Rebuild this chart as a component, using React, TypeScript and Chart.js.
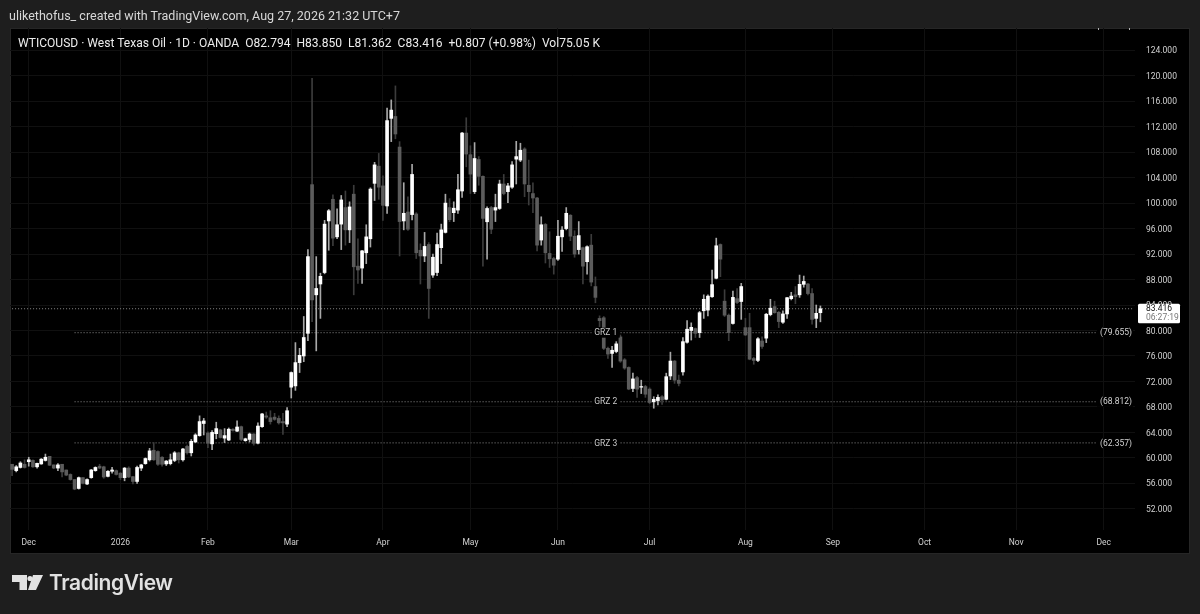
import { useEffect, useRef } from "react";
import { Chart, registerables } from "chart.js";

Chart.register(...registerables);

const opens = [
  59.0, 58.0, 58.5, 59.0, 59.4, 59.6, 58.6, 59.05, 59.6, 60.25,
  58.9, 58.4, 59.0, 58.1, 57.4, 56.6, 55.2, 56.9, 55.9, 56.9,
  58.0, 58.7, 58.6, 57.1, 57.9, 58.0, 57.6, 56.9, 58.4, 57.05,
  56.3, 58.4, 59.1, 59.7, 61.2, 61.0, 60.1, 59.05, 59.1, 59.6,
  60.8, 59.7, 61.8, 60.8, 62.5, 63.5, 65.4, 63.9, 62.2, 63.8,
  64.4, 63.1, 62.8, 64.5, 64.2, 64.9, 62.7, 62.9, 63.75, 62.3,
  64.9, 66.6, 66.3, 66.4, 66.2, 65.7, 65.3,
  71.1, 71.3, 74.96, 76.0, 79.56, 102.9, 85.6, 87.3, 89.1, 97.2,
  100.6, 94.7, 96.7, 99.3, 95.8, 101.4, 90.1, 89.8, 92.2, 94.4,
  103.1, 105.8, 102.7, 99.55, 113.3, 113.6, 108.8, 97.2, 98.6, 98.2,
  98.3, 92.6, 91.7, 93.5, 88.7, 89.1, 93.0, 95.4, 99.3, 98.5,
  98.9, 101.9, 111.0, 107.6, 101.8, 106.85, 104.2, 97.07, 99.3, 98.9,
  99.16, 103.0, 101.8, 102.5, 106.9, 106.75, 108.5, 102.8, 101.5, 100.8,
  94.2, 96.65, 92.1, 91.3, 91.2, 94.7, 96.0, 98.1, 94.8, 92.7,
  93.0, 90.8, 93.4, 86.9,
  81.9, 82.0, 77.2, 76.4, 76.7, 79.0, 75.4, 74.2, 70.9, 72.6,
  71.1, 71.2, 70.8, 68.8, 69.0, 69.6, 69.2, 72.86, 75.2, 72.2,
  73.5, 78.15, 80.0, 80.3, 79.66, 83.1, 83.2, 85.3, 88.2, 93.5,
  84.6, 82.4, 81.1, 85.0, 84.55, 80.45, 80.45, 75.6, 75.3, 78.35,
  78.8, 82.5, 83.75, 82.85, 81.3, 82.6, 85.0, 85.6, 85.6, 87.25,
  87.3, 85.8, 81.9, 82.794,
];

const closes = [
  58.2, 58.6, 59.2, 58.5, 59.7, 58.6, 59.15, 59.8, 60.1, 58.85,
  58.4, 58.9, 57.8, 57.3, 56.6, 55.1, 56.9, 56.0, 56.6, 58.1,
  58.5, 58.4, 57.0, 57.9, 58.1, 57.4, 56.9, 58.4, 57.0, 56.3,
  58.5, 58.9, 59.9, 61.1, 59.7, 59.0, 59.0, 59.5, 59.7, 60.8,
  59.7, 61.4, 60.8, 62.6, 63.6, 65.7, 65.8, 62.3, 64.0, 64.6,
  63.2, 63.5, 64.5, 64.3, 64.85, 62.9, 63.0, 63.75, 62.3, 65.0,
  66.9, 66.4, 65.7, 66.05, 65.5, 65.5, 67.4,
  73.4, 74.96, 76.1, 78.9, 91.6, 84.8, 86.6, 88.5, 96.7, 98.8,
  94.5, 96.6, 100.5, 95.8, 99.4, 90.0, 89.5, 92.5, 94.7, 102.2,
  106.0, 102.5, 99.65, 112.95, 114.6, 110.85, 97.1, 98.4, 95.9, 104.5,
  92.2, 91.7, 93.2, 86.6, 91.5, 93.5, 95.8, 100.0, 97.4, 99.2,
  102.1, 111.0, 107.7, 104.55, 107.0, 104.2, 97.6, 99.16, 95.9, 99.3,
  103.0, 101.5, 102.7, 106.0, 107.3, 108.3, 103.0, 101.8, 100.8, 93.4,
  96.6, 92.2, 91.25, 90.25, 94.8, 95.76, 98.4, 94.8, 92.0, 94.9,
  90.1, 93.15, 87.6, 85.2,
  81.55, 77.2, 76.3, 76.9, 77.9, 75.2, 74.1, 70.8, 72.4, 70.8,
  71.2, 70.0, 68.7, 69.2, 69.5, 69.1, 72.75, 75.2, 72.2, 71.7,
  78.25, 80.2, 80.5, 79.55, 82.8, 84.9, 85.4, 87.2, 93.3, 91.2,
  82.4, 79.66, 85.2, 84.4, 86.9, 79.3, 75.5, 75.3, 78.7, 77.5,
  82.55, 83.5, 82.8, 81.4, 82.6, 85.15, 85.4, 85.3, 87.25, 87.7,
  85.8, 81.75, 82.7, 83.416,
];

const highs = [
  59.0, 58.8, 59.4, 59.7, 60.1, 59.7, 59.2, 59.9, 60.6, 60.25,
  58.9, 59.1, 59.0, 58.1, 57.5, 56.6, 57.0, 56.9, 56.7, 58.2,
  58.6, 59.0, 58.7, 58.0, 58.5, 58.1, 57.7, 58.5, 58.6, 57.1,
  58.7, 59.0, 60.0, 61.5, 62.4, 61.1, 60.2, 59.6, 60.6, 61.0,
  60.9, 61.5, 62.0, 62.9, 63.8, 66.6, 66.2, 64.1, 64.3, 65.6,
  64.5, 64.6, 64.7, 64.6, 65.8, 65.0, 63.1, 63.9, 63.8, 65.5,
  67.0, 67.2, 67.4, 67.0, 66.6, 67.0, 67.9,
  73.5, 78.1, 77.2, 82.2, 92.7, 119.6, 91.6, 89.0, 97.3, 99.0,
  101.3, 99.1, 101.2, 101.9, 100.2, 102.8, 94.4, 92.6, 96.6, 102.4,
  106.4, 107.8, 104.3, 114.9, 116.2, 118.4, 109.65, 103.2, 101.0, 106.1,
  98.5, 93.6, 95.4, 93.8, 92.0, 95.3, 96.7, 101.4, 100.7, 100.2,
  104.5, 111.1, 113.4, 109.0, 109.5, 107.3, 104.3, 99.4, 99.5, 101.4,
  103.6, 104.5, 103.1, 106.5, 109.7, 109.4, 108.7, 106.75, 103.2, 100.9,
  97.85, 96.8, 95.5, 91.5, 97.3, 96.3, 99.3, 98.2, 95.66, 97.1,
  93.1, 93.3, 95.1, 88.4,
  82.3, 82.2, 77.4, 77.5, 78.25, 79.3, 75.6, 74.3, 73.3, 72.8,
  72.2, 71.4, 71.0, 69.6, 69.9, 69.8, 73.3, 76.6, 75.3, 73.0,
  78.9, 81.55, 81.2, 80.4, 83.0, 85.6, 85.6, 89.5, 94.5, 93.6,
  86.4, 82.6, 86.2, 86.6, 87.4, 81.9, 82.7, 75.8, 78.9, 79.0,
  82.7, 84.9, 84.6, 83.0, 83.1, 85.2, 86.0, 86.9, 88.7, 88.55,
  87.4, 86.6, 84.0, 83.85,
];

const lows = [
  57.2, 57.8, 58.4, 58.4, 58.7, 58.5, 58.4, 59.0, 59.5, 58.8,
  58.3, 58.0, 57.0, 57.2, 56.5, 55.0, 55.1, 55.9, 55.8, 56.8,
  57.9, 58.3, 56.8, 57.0, 57.6, 57.3, 56.6, 56.4, 56.9, 55.9,
  56.0, 58.0, 59.0, 59.5, 59.6, 58.8, 58.7, 58.8, 58.9, 59.4,
  59.2, 59.5, 60.6, 60.3, 62.4, 63.4, 63.6, 61.6, 61.3, 63.0,
  63.1, 62.4, 62.7, 64.2, 64.1, 62.7, 62.6, 62.5, 62.0, 62.2,
  64.8, 66.2, 65.3, 65.9, 65.3, 63.7, 64.9,
  69.4, 70.6, 73.4, 75.1, 78.4, 81.4, 76.8, 81.9, 88.9, 92.6,
  93.3, 94.4, 92.7, 93.4, 93.8, 85.6, 87.4, 87.4, 90.5, 93.1,
  100.4, 100.6, 97.3, 98.4, 109.65, 110.1, 91.7, 95.8, 95.7, 97.35,
  91.3, 87.3, 90.8, 81.9, 88.35, 88.6, 90.5, 95.3, 97.1, 97.1,
  98.4, 100.9, 105.7, 101.5, 101.5, 102.8, 90.1, 91.2, 95.2, 97.1,
  99.0, 101.3, 100.05, 102.3, 103.0, 106.5, 101.0, 99.7, 98.5, 92.5,
  93.4, 90.6, 89.9, 88.85, 91.0, 92.4, 95.8, 94.1, 91.5, 92.0,
  87.3, 88.85, 87.0, 84.35,
  80.6, 77.0, 75.6, 74.2, 76.5, 75.0, 73.9, 70.7, 70.4, 69.5,
  70.1, 69.5, 68.5, 67.8, 68.3, 68.4, 69.1, 72.3, 71.7, 71.3,
  73.0, 78.0, 78.5, 78.9, 78.9, 81.9, 82.3, 85.2, 88.1, 88.45,
  82.2, 78.4, 81.0, 84.2, 81.75, 79.2, 75.4, 74.7, 75.1, 77.2,
  78.1, 82.3, 82.7, 80.45, 81.1, 81.9, 84.8, 84.2, 85.2, 86.8,
  85.6, 81.0, 80.45, 81.362,
];

const priceTicks = [
  52, 56, 60, 64, 68, 72, 76, 80, 84, 88, 92, 96, 100, 104, 108, 112, 116, 120, 124,
];

const levelNames = ["GRZ 1", "GRZ 2", "GRZ 3"];
const levelPrices = [79.655, 68.812, 62.357];
const lastPrice = 83.416;
const countdown = "06:27:19";

// market shut on these days, no bar
const closedDays = ["2025-12-25", "2026-01-01", "2026-04-03"];
const monthNames = ["2026", "Feb", "Mar", "Apr", "May", "Jun", "Jul", "Aug", "Sep", "Oct", "Nov", "Dec"];

const barCount = 270;

function buildDays() {
  const days: string[] = [];
  const d = new Date(Date.UTC(2025, 10, 25));
  while (days.length < barCount) {
    const s = d.toISOString().slice(0, 10);
    const wd = d.getUTCDay();
    if (wd !== 0 && wd !== 6 && !closedDays.includes(s)) days.push(s);
    d.setUTCDate(d.getUTCDate() + 1);
  }
  return days;
}

const days = buildDays();

function monthLabel(i: number) {
  const cur = days[i];
  const prev = days[i - 1];
  if (!prev || cur.slice(0, 7) === prev.slice(0, 7)) return "";
  const year = cur.slice(0, 4);
  const month = Number(cur.slice(5, 7));
  return year === "2025" ? "Dec" : monthNames[month - 1];
}

const FONT = "Roboto";
const UP = "#ffffff";
const DOWN = "#5c5c5c";
const UP_WICK = "#a8a8a8";
const DOWN_WICK = "#3c3c3c";
const GRID = "#101010";

const overlayPlugin = {
  id: "overlay",
  afterDatasetsDraw(chart: any) {
    const { ctx, scales } = chart;
    const y = scales.y;
    const x = scales.x;
    ctx.save();
    ctx.textBaseline = "middle";
    ctx.font = `8.5px ${FONT}`;
    levelPrices.forEach((p, i) => {
      const py = y.getPixelForValue(p);
      const name = levelNames[i];
      const midX = x.getPixelForValue(142) + 2;
      ctx.fillStyle = "#000";
      ctx.fillRect(midX - 14, py - 5, 28, 10);
      ctx.fillStyle = "#c8c8c8";
      ctx.textAlign = "center";
      ctx.fillText(name, midX, py + 0.5);
      const valX = x.right - 19;
      ctx.fillStyle = "#000";
      ctx.fillRect(valX - 19, py - 5, 36, 10);
      ctx.fillStyle = "#d4d4d4";
      ctx.fillText(`(${p.toFixed(3)})`, valX, py + 0.5);
    });
    // clipped label poking in at the top edge
    ctx.fillStyle = "#b0b0b0";
    ctx.fillRect(1098, 28, 1, 2);
    ctx.fillRect(1129, 28, 1, 2);
    // last price box
    const ly = y.getPixelForValue(lastPrice);
    ctx.fillStyle = "#ffffff";
    ctx.beginPath();
    ctx.roundRect(1138, ly - 5, 42, 19.5, 1.5);
    ctx.fill();
    ctx.textAlign = "left";
    ctx.fillStyle = "#111";
    ctx.fillText(lastPrice.toFixed(3), 1146, ly + 0.2);
    ctx.fillStyle = "#777";
    ctx.fillText(countdown, 1146, ly + 9.2);
    ctx.restore();
  },
};

function levelLine(price: number, from: number) {
  return days.map((_, i) => (i === from || i === barCount - 1 ? price : null));
}

function CandleChart() {
  const ref = useRef<HTMLCanvasElement | null>(null);

  useEffect(() => {
    if (!ref.current) return;
    const isUp = (i: number) => closes[i] >= opens[i];
    const lines = [
      { data: levelLine(lastPrice, 0) },
      ...levelPrices.map((p) => ({ data: levelLine(p, 15) })),
    ];
    const chart = new Chart(ref.current, {
      type: "bar",
      data: {
        labels: days,
        datasets: [
          {
            label: "body",
            data: opens.map((o, i) => [o, closes[i]]),
            backgroundColor: opens.map((_, i) => (isUp(i) ? UP : DOWN)),
            barThickness: 3,
            grouped: false,
            order: 1,
          },
          {
            label: "wick",
            data: lows.map((l, i) => [l, highs[i]]),
            backgroundColor: lows.map((_, i) => (isUp(i) ? UP_WICK : DOWN_WICK)),
            barThickness: 1,
            grouped: false,
            order: 2,
          },
          ...lines.map((l, i) => ({
            type: "line" as const,
            label: `level ${i}`,
            data: l.data,
            borderColor: "#8a8a8a",
            borderWidth: 1,
            borderDash: [1, 2],
            pointRadius: 0,
            spanGaps: true,
            order: 3,
          })),
        ],
      } as any,
      options: {
        animation: false,
        responsive: false,
        layout: { padding: { left: 10, top: 28, right: 10, bottom: 61 } },
        plugins: {
          legend: { display: false },
          tooltip: { enabled: false },
        },
        scales: {
          x: {
            type: "category",
            offset: true,
            afterBuildTicks: (s: any) => {
              s.ticks = s.ticks.filter((t: any) => monthLabel(t.value) !== "");
            },
            afterFit: (s: any) => {
              s.height = 23;
            },
            ticks: {
              autoSkip: false,
              maxRotation: 0,
              padding: 8,
              color: "#d2d2d2",
              font: { family: FONT, size: 8.5 },
              callback: (v: any) => monthLabel(Number(v)),
            },
            grid: { color: GRID, offset: false, drawTicks: false },
            border: { display: false },
          },
          y: {
            type: "linear",
            position: "right",
            min: 48.68,
            max: 127.49,
            afterBuildTicks: (s: any) => {
              s.ticks = priceTicks.map((value) => ({ value }));
            },
            afterFit: (s: any) => {
              s.width = 55;
            },
            ticks: {
              padding: 11,
              labelOffset: 1,
              color: "#d2d2d2",
              font: { family: FONT, size: 8.5 },
              callback: (v: any) => Number(v).toFixed(3),
            },
            grid: { color: GRID, drawTicks: false },
            border: { display: false },
          },
        },
      },
      plugins: [overlayPlugin],
    } as any);
    return () => {
      chart.destroy();
    };
  }, []);

  return <canvas ref={ref} width={1200} height={614} style={{ position: "absolute", left: 0, top: 0 }} />;
}

export default function App() {
  return (
    <div
      style={{
        position: "fixed",
        left: 0,
        top: 0,
        width: 1200,
        height: 614,
        background: "#1e1e1e",
        overflow: "hidden",
        fontFamily: FONT,
      }}
    >
      <div
        style={{
          position: "absolute",
          left: 10,
          top: 28,
          width: 1178,
          height: 524,
          background: "#000",
          border: "1px solid #262626",
        }}
      />
      <CandleChart />
      <div style={{ position: "absolute", left: 9, top: 8, fontSize: 12.5, color: "#d8d8d8", whiteSpace: "nowrap" }}>
        ulikethofus_ created with TradingView.com, Aug 27, 2026 21:32 UTC+7
      </div>
      <div style={{ position: "absolute", left: 18, top: 36, fontSize: 12.05, color: "#ececec", whiteSpace: "pre" }}>
        {"WTICOUSD · West Texas Oil · 1D · OANDA  O82.794  H83.850  L81.362  C83.416  +0.807 (+0.98%)  Vol75.05 K"}
      </div>
      <svg style={{ position: "absolute", left: 12, top: 575 }} width="32" height="16" viewBox="0 0 32 16">
        <path d="M0 0H15V15H7.5V7H0Z" fill="#e2e2e2" />
        <circle cx="18" cy="3.5" r="2.6" fill="#e2e2e2" />
        <path d="M21 0H31L24 15H16Z" fill="#e2e2e2" />
      </svg>
      <div
        style={{
          position: "absolute",
          left: 49,
          top: 570,
          fontSize: 21,
          fontWeight: 600,
          color: "#e2e2e2",
          fontFamily: "Inter",
          letterSpacing: -0.4,
        }}
      >
        TradingView
      </div>
    </div>
  );
}
